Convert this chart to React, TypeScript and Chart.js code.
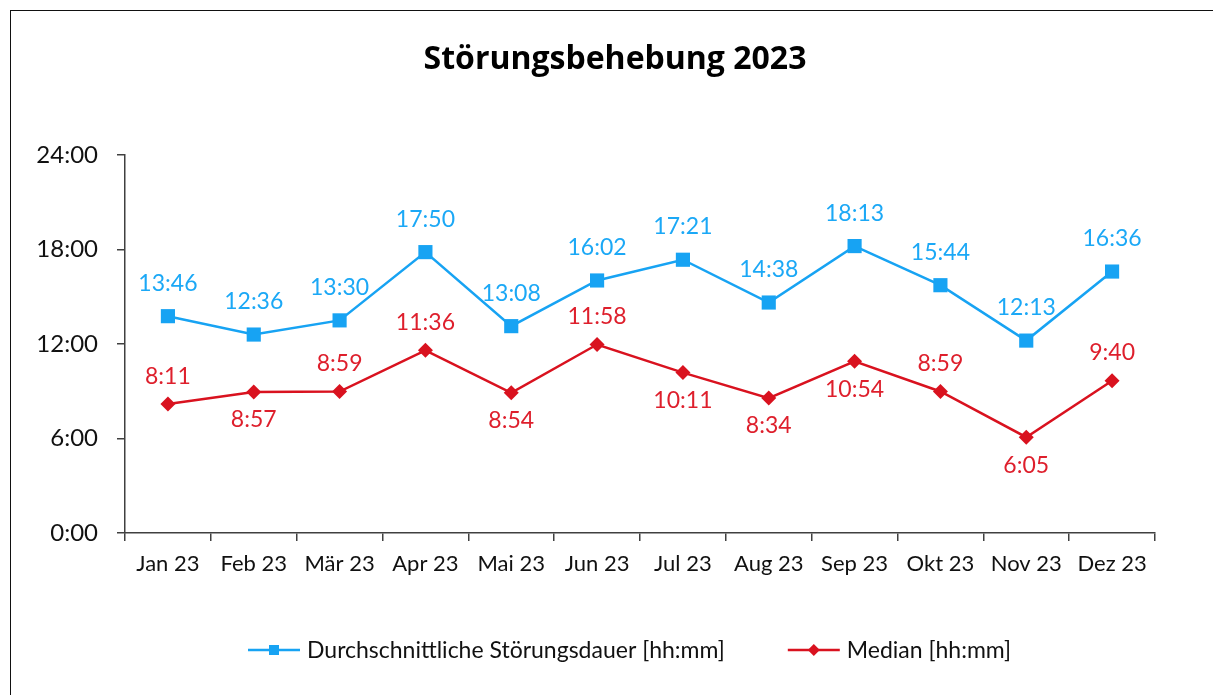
import React, { useEffect, useRef } from "react";
import { Chart, registerables } from "chart.js";

Chart.register(...registerables);

const months = ["Jan 23", "Feb 23", "Mär 23", "Apr 23", "Mai 23", "Jun 23", "Jul 23", "Aug 23", "Sep 23", "Okt 23", "Nov 23", "Dez 23"];
const avgDuration = ["13:46", "12:36", "13:30", "17:50", "13:08", "16:02", "17:21", "14:38", "18:13", "15:44", "12:13", "16:36"];
const medianDuration = ["8:11", "8:57", "8:59", "11:36", "8:54", "11:58", "10:11", "8:34", "10:54", "8:59", "6:05", "9:40"];
const medianLabelSide = ["above", "below", "above", "above", "below", "above", "below", "below", "below", "above", "below", "above"];
const yTickValues = [0, 6, 12, 18, 24];

const seriesNames = ["Durchschnittliche Störungsdauer [hh:mm]", "Median [hh:mm]"];

const BLUE = "#17A3F3";
const BLUE_TEXT = "#1BA8F6";
const RED = "#D9121F";
const RED_TEXT = "#DE1F2C";
const FONT = "Lato, 'Open Sans', sans-serif";

const toHours = (s: string) => {
  const [h, m] = s.split(":").map(Number);
  return h + m / 60;
};
const fmt = (v: number) => `${Math.floor(v)}:${String(Math.round((v - Math.floor(v)) * 60)).padStart(2, "0")}`;

const CANVAS_W = 1210;
const CANVAS_H = 700;

const overlayPlugin = {
  id: "overlay",
  afterDatasetsDraw(chart: any) {
    const ctx = chart.ctx;
    ctx.save();
    ctx.font = `23px ${FONT}`;
    ctx.textAlign = "center";
    ctx.textBaseline = "middle";
    const m0 = chart.getDatasetMeta(0);
    m0.data.forEach((pt: any, i: number) => {
      ctx.fillStyle = BLUE_TEXT;
      ctx.fillText(avgDuration[i], pt.x, pt.y - 33);
    });
    const m1 = chart.getDatasetMeta(1);
    m1.data.forEach((pt: any, i: number) => {
      ctx.fillStyle = RED_TEXT;
      const dy = medianLabelSide[i] === "above" ? -28 : 28;
      ctx.fillText(medianDuration[i], pt.x, pt.y + dy);
    });
    ctx.restore();
  },
  afterDraw(chart: any) {
    const ctx = chart.ctx;
    ctx.save();
    ctx.font = `bold 32px 'Open Sans', Lato, sans-serif`;
    ctx.fillStyle = "#000";
    ctx.textAlign = "center";
    ctx.textBaseline = "alphabetic";
    ctx.fillText("Störungsbehebung 2023", 604, 58);

    ctx.font = `23px ${FONT}`;
    ctx.textBaseline = "middle";
    ctx.textAlign = "left";
    const lineLen = 52;
    const gapText = 7;
    const gapItems = 63;
    const widths = seriesNames.map((n) => ctx.measureText(n).width);
    let x = 237;
    const y = 639;
    const colors = [BLUE, RED];
    widths.forEach((w, i) => {
      ctx.strokeStyle = colors[i];
      ctx.fillStyle = colors[i];
      ctx.lineWidth = 2.5;
      ctx.beginPath();
      ctx.moveTo(x, y);
      ctx.lineTo(x + lineLen, y);
      ctx.stroke();
      const cx = x + lineLen / 2;
      ctx.beginPath();
      if (i === 0) {
        ctx.rect(cx - 5, y - 5, 10, 10);
      } else {
        ctx.moveTo(cx - 6, y);
        ctx.lineTo(cx, y - 6);
        ctx.lineTo(cx + 6, y);
        ctx.lineTo(cx, y + 6);
        ctx.closePath();
      }
      ctx.fill();
      ctx.fillStyle = "#111";
      ctx.fillText(seriesNames[i], x + lineLen + gapText, y + 1);
      x += lineLen + gapText + w + gapItems;
    });
    ctx.restore();
  },
};

export default function App() {
  const ref = useRef<HTMLCanvasElement>(null);
  useEffect(() => {
    if (!ref.current) return;
    const chart = new Chart(ref.current, {
      type: "line",
      data: {
        labels: months,
        datasets: [
          {
            label: seriesNames[0],
            data: avgDuration.map(toHours),
            borderColor: BLUE,
            backgroundColor: BLUE,
            borderWidth: 2.5,
            pointStyle: "rect",
            pointRadius: 10,
            pointHoverRadius: 10,
            pointBorderWidth: 0,
            tension: 0,
          },
          {
            label: seriesNames[1],
            data: medianDuration.map(toHours),
            borderColor: RED,
            backgroundColor: RED,
            borderWidth: 2.5,
            pointStyle: "rectRot",
            pointRadius: 7.5,
            pointHoverRadius: 7.5,
            pointBorderWidth: 0,
            tension: 0,
          },
        ],
      },
      options: {
        animation: false,
        responsive: false,
        events: [],
        layout: { padding: { top: 144, left: 0, right: 66, bottom: 128 } },
        plugins: {
          legend: { display: false },
          title: { display: false },
          tooltip: { enabled: false },
        },
        scales: {
          x: {
            offset: true,
            grid: {
              offset: true,
              display: true,
              drawOnChartArea: false,
              drawTicks: true,
              tickLength: 8,
              color: "#404040",
              lineWidth: 1.5,
            },
            border: { display: true, color: "#404040", width: 1.5 },
            ticks: {
              font: { family: FONT, size: 22 },
              color: "#111",
              padding: 10,
              maxRotation: 0,
              autoSkip: false,
            },
            afterFit(scale: any) {
              scale.height = 50;
            },
          },
          y: {
            min: 0,
            max: 24,
            afterBuildTicks(scale: any) {
              scale.ticks = yTickValues.map((v) => ({ value: v }));
            },
            grid: {
              display: true,
              drawOnChartArea: false,
              drawTicks: true,
              tickLength: 8,
              color: "#404040",
              lineWidth: 1.5,
            },
            border: { display: true, color: "#404040", width: 1.5 },
            ticks: {
              font: { family: FONT, size: 24 },
              color: "#111",
              padding: 19,
              callback: (v: any) => fmt(Number(v)),
            },
            afterFit(scale: any) {
              scale.width = 114;
            },
          },
        },
      },
      plugins: [overlayPlugin],
    });
    return () => chart.destroy();
  }, []);

  return (
    <div style={{ position: "fixed", left: 0, top: 0, width: 1213, height: 695, overflow: "hidden", background: "#fff" }}>
      <div
        style={{
          position: "absolute",
          left: 10,
          top: 10,
          width: CANVAS_W,
          height: CANVAS_H,
          border: "1px solid #111",
        }}
      >
        <canvas ref={ref} width={CANVAS_W} height={CANVAS_H} style={{ display: "block", width: CANVAS_W, height: CANVAS_H }} />
      </div>
    </div>
  );
}
